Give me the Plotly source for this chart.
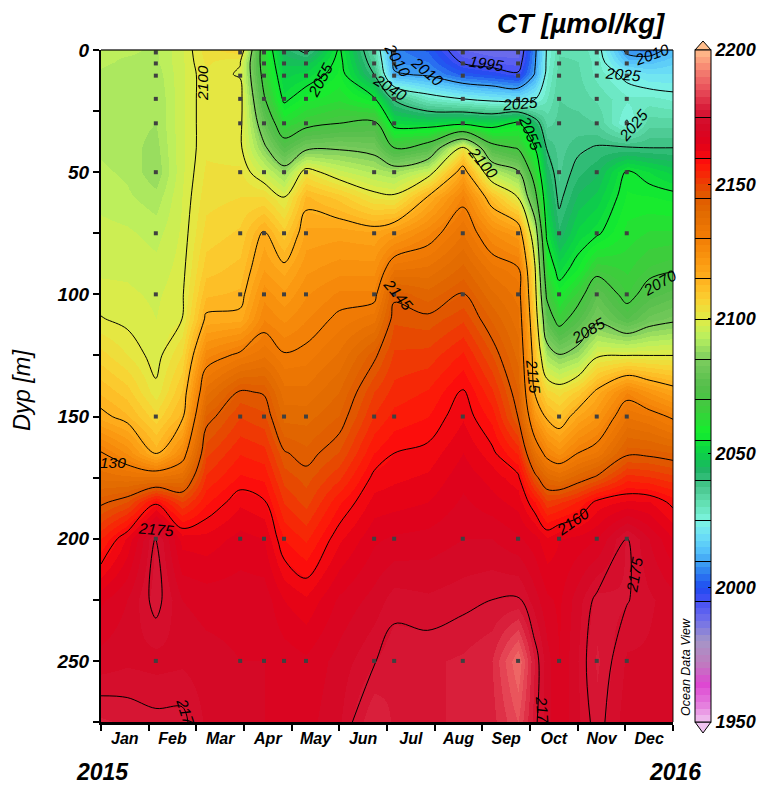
import plotly.graph_objects as go

# ---------- data ----------
month_labels = ["Jan","Feb","Mar","Apr","May","Jun","Jul","Aug","Sep","Oct","Nov","Dec"]
depths = [0,5,10,20,30,40,50,60,75,90,100,110,125,140,150,165,175,185,200,225,250,275]
months = [0,0.55,1.15,1.7,2.2,2.92,3.42,3.84,4.30,5.0,5.73,6.15,6.85,7.59,8.2,8.75,9.1,9.35,9.61,10.0,10.40,11.03,11.5,12]

ct_00 = [2093,2093,2092,2092,2092,2092,2093,2094,2096,2097,2098.5,2100.2,2106,2112,2116.5,2130.5,2137,2144,2155,2167,2171,2178]
ct_01 = [2093,2092,2091,2091,2091,2091,2092,2093,2095.5,2097,2098,2099,2102.5,2108.7,2113,2124.6,2136,2147.5,2163,2170,2172,2177]
ct_02 = [2092,2092,2091,2090,2090,2089,2088,2091,2094,2096,2097,2097.5,2098.5,2100.9,2106,2114,2136,2159,2175.5,2176.5,2171.5,2176]
ct_03 = [2097,2097,2097,2097,2097,2097,2097,2097.5,2098,2098.7,2099.3,2100,2105,2110.2,2113.6,2125.8,2137.8,2150,2164,2170,2172,2176]
ct_04 = [2104,2103,2102,2102,2102,2102,2103,2104,2106,2109,2112,2115.9,2126.5,2136.5,2143,2149.3,2153,2157,2163.5,2169,2171,2172]
ct_05 = [2107,2100.2,2099.5,2102.5,2101.5,2101,2103,2105,2108,2111,2113,2116.5,2131.5,2145.7,2150,2154.8,2158,2162,2166,2169,2170,2171]
ct_06 = [2063,2064,2066,2071,2079,2086.6,2096,2105,2116,2120,2124,2127.3,2134.5,2144.5,2148.3,2153.5,2157,2160.5,2165,2169,2170,2170]
ct_07 = [2044,2047,2049,2053.5,2062.5,2075,2088.5,2099.5,2108.5,2116.6,2120.5,2124.4,2130.5,2136,2139,2145.5,2149,2152.3,2157.5,2165,2169,2170]
ct_08 = [2038,2046,2051,2059,2067,2083,2103,2113,2118.3,2122,2124.7,2127.3,2131.3,2135.8,2139,2143.3,2146.5,2149,2154.5,2163,2168,2169]
ct_09 = [2056,2057,2058,2062,2070,2084,2096,2109,2119,2124,2128,2131,2135.5,2140,2142.7,2147.7,2152,2157,2162,2168,2171,2172]
ct_10 = [2033,2036,2040,2056,2072,2082,2092,2102,2118,2124,2128,2134,2144,2150,2152.8,2157.5,2161,2163.5,2167,2171,2174.7,2180]
ct_11 = [2006,2008,2011,2039,2052,2070,2090,2101,2121,2135,2144,2147,2150.5,2153.5,2156,2160,2162,2164,2168,2173.7,2177,2177]
ct_12 = [2002,2005,2008.8,2029,2051,2075,2096,2115,2127,2136,2141,2146,2151,2155.3,2157.5,2161,2163,2165,2168.5,2173,2177,2177]
ct_13 = [1990,1994.3,2001.4,2025,2053,2103,2119,2128,2135,2141,2145.2,2149.5,2155.5,2160.6,2162.2,2165,2166.7,2168,2170,2174,2178,2178]
ct_14 = [1988,1992,1999,2022.5,2051,2074,2093,2111,2125,2134,2138,2142,2147.5,2153,2156.5,2161,2164,2166,2170,2175,2180,2179]
ct_15 = [1988,1991,1996,2021,2056.5,2069,2086.4,2099.5,2120.8,2131.2,2134,2136,2139,2142.5,2144.8,2154.5,2161,2164,2168,2175.5,2190,2185]
ct_16 = [2008,2009,2010.5,2024.5,2044,2055.3,2064,2074,2093,2101.6,2104,2106.7,2110.6,2114.5,2122,2136,2147,2157.5,2166,2171,2177,2176]
ct_17 = [2025.5,2026,2027,2030,2034,2039.7,2044,2048,2053.5,2062,2068.5,2076,2090,2106,2114,2127.5,2140,2150.6,2163,2168,2171,2171]
ct_18 = [2032,2033,2034,2035,2036,2036.5,2037,2038.5,2043,2052,2059,2066,2085.6,2103.8,2110.6,2124,2138,2152,2165,2167,2167.5,2168]
ct_19 = [2032,2032.5,2033,2034,2036,2039,2041.7,2045.5,2050.7,2058,2066,2074.5,2089,2108.4,2118,2130,2142,2155.4,2166,2171.5,2172.5,2172]
ct_20 = [2028,2029,2029,2032,2035,2040.5,2044.4,2048.4,2054,2067.3,2077.5,2083,2099,2116.3,2122.5,2133,2146,2161,2167.4,2176,2178,2176.5]
ct_21 = [2008,2014,2023.5,2028,2024.5,2040.5,2056,2058,2061,2064.5,2067,2075,2100,2127.4,2135,2144,2154,2163,2175.5,2175.3,2172,2171]
ct_22 = [2006,2014,2020,2028.5,2034,2040,2052.5,2057.7,2062.8,2068,2073.4,2081,2100,2122.3,2133,2143.8,2153,2162.7,2170,2173,2172,2171]
ct_23 = [2013,2017,2020,2027,2034,2040,2049,2056.7,2063,2069.5,2076.3,2083.5,2100,2118,2129,2142.5,2151,2159,2165,2171,2171,2171]

ct_columns = [ct_00,ct_01,ct_02,ct_03,ct_04,ct_05,ct_06,ct_07,ct_08,ct_09,ct_10,ct_11,
              ct_12,ct_13,ct_14,ct_15,ct_16,ct_17,ct_18,ct_19,ct_20,ct_21,ct_22,ct_23]

sample_depths = [1,5.5,10.5,20,30,50,75,100,150,200,250]
station_months = [1.15,2.92,3.42,3.84,4.30,5.73,6.15,7.59,8.75,9.61,10.40,11.03]
station_missing = [[],[5.5],[],[],[200],[],[],[],[150],[],[],[]]

label_text  = ["2100","2055","2040","2010","2010","1995","2025","2055","2100","2025","2010","2025",
               "2145","2115","2085","2070","2160","2175","2175","217","217","130"]
label_month = [2.14,4.59,6.06,6.23,6.84,8.08,8.79,9.02,8.01,10.95,11.56,11.16,
               6.23,9.06,10.22,11.73,9.90,1.15,11.2,1.76,9.25,0.25]
label_depth = [13.5,12.3,15.5,4.1,9,5.7,21.7,34,46.2,10.2,2,30.7,
               100.2,133.8,114.6,95.3,193.1,196.4,214.8,270.9,270,169]
label_angle = [-90,-62,32,60,40,8,-5,68,50,5,-20,-50,
               50,84,-30,-30,-35,5,-80,72,86,0]

colorbar_ticks = [1950,2000,2050,2100,2150,2200]

# ---------- colour table (ODV style) ----------
ramp = [(1950,(240,195,240)),(1957,(228,120,220)),(1964,(222,70,210)),(1972,(190,125,190)),
        (1980,(165,150,200)),(1988,(110,110,235)),(1995,(70,80,245)),(2000,(30,75,240)),
        (2007,(50,140,240)),(2014,(85,195,250)),(2020,(110,225,245)),(2025,(125,245,225)),
        (2031,(100,225,180)),(2037,(75,200,145)),(2044,(30,180,100)),(2050,(10,210,70)),
        (2058,(20,238,45)),(2066,(60,205,60)),(2075,(85,190,75)),(2085,(125,205,95)),
        (2093,(185,240,95)),(2100,(225,235,70)),(2107,(250,210,50)),(2115,(255,175,30)),
        (2122,(250,150,15)),(2130,(242,125,5)),(2140,(225,105,0)),(2147,(225,85,0)),
        (2153,(245,45,5)),(2158,(255,15,10)),(2165,(225,0,25)),(2172,(212,10,40)),
        (2178,(215,25,55)),(2184,(230,70,85)),(2190,(240,110,105)),(2195,(250,150,120)),
        (2200,(255,190,140))]
VMIN, VMAX = 1950, 2200

def ramp_colour(v):
    for (a, ca), (b, cb) in zip(ramp, ramp[1:]):
        if a <= v <= b:
            t = (v - a) / (b - a)
            return "rgb(%d,%d,%d)" % tuple(round(p + (q - p) * t) for p, q in zip(ca, cb))
    return "rgb(0,0,0)"

N_BANDS = 100
colorscale = []
for i in range(N_BANDS):
    c = ramp_colour(VMIN + (i + 0.5) * (VMAX - VMIN) / N_BANDS)
    colorscale.append([i / N_BANDS, c])
    colorscale.append([(i + 1) / N_BANDS, c])

# ---------- layout constants ----------
W, H = 766, 793
L, R, T, B = 101, 673, 50, 722
px = lambda x: x / W
py = lambda y: 1 - y / H
FONT = "Liberation Sans"
bi = lambda size: dict(family=FONT, size=size, color="black", weight=700, style="italic")
it = lambda size: dict(family=FONT, size=size, color="black", style="italic")

z = [list(row) for row in zip(*ct_columns)]

fig = go.Figure()
fig.add_trace(go.Contour(
    x=months, y=depths, z=z, zmin=VMIN, zmax=VMAX, colorscale=colorscale,
    contours=dict(coloring="heatmap", start=1995, end=2175, size=15, showlabels=False),
    line=dict(color="black", width=1, smoothing=1),
    colorbar=dict(x=px(695), xanchor="left", xref="paper", y=py(T), yanchor="top", yref="paper",
                  thickness=16, thicknessmode="pixels", len=B - T, lenmode="pixels",
                  xpad=0, ypad=0, outlinecolor="black", outlinewidth=1,
                  tickmode="array", tickvals=colorbar_ticks, ticks="inside", ticklen=3,
                  tickcolor="black", tickfont=bi(18), tickprefix="\u2009"),
    hoverinfo="skip"))

dot_x, dot_y = [], []
for m, missing in zip(station_months, station_missing):
    for d in sample_depths:
        if d not in missing:
            dot_x.append(m)
            dot_y.append(d)
fig.add_trace(go.Scatter(x=dot_x, y=dot_y, mode="markers", showlegend=False,
                         marker=dict(symbol="square", size=4, color="#404040"), hoverinfo="skip"))

annotations = []
for t, m, d, a in zip(label_text, label_month, label_depth, label_angle):
    annotations.append(dict(x=m, y=d, xref="x", yref="y", text=t, textangle=a, showarrow=False,
                            font=it(15.5)))
def note(text, x, y, font, angle=0, anchor="center"):
    annotations.append(dict(x=px(x), y=py(y), xref="paper", yref="paper", text=text, textangle=angle,
                            showarrow=False, xanchor=anchor, yanchor="middle", font=font))
note("CT [µmol/kg]", 667, 24, bi(27.5), anchor="right")
note("Dyp [m]", 22, 391, it(23.5), angle=-90)
note("2015", 102, 772, bi(23))
note("2016", 675, 772, bi(23))
note("Ocean Data View", 686, 667, it(12.5), angle=-90)

def tri(x0, x1, y0, y1):
    return "M %f %f L %f %f L %f %f Z" % (px(x0), py(y0), px((x0 + x1) / 2), py(y1), px(x1), py(y0))
shapes = [
    dict(type="path", xref="paper", yref="paper", path=tri(695, 711, T, 41),
         fillcolor="rgb(255,190,140)", line=dict(color="black", width=1)),
    dict(type="path", xref="paper", yref="paper", path=tri(695, 711, B, 733),
         fillcolor="rgb(240,195,240)", line=dict(color="black", width=1)),
    dict(type="line", xref="paper", yref="paper", x0=px(L), x1=px(R), y0=py(T), y1=py(T),
         line=dict(color="rgba(0,0,0,0.6)", width=2)),
    dict(type="line", xref="paper", yref="paper", x0=px(R), x1=px(R), y0=py(T), y1=py(B),
         line=dict(color="rgba(0,0,0,0.45)", width=2)),
]

fig.update_layout(
    width=W, height=H, autosize=False, margin=dict(l=0, r=0, t=0, b=0, autoexpand=False),
    paper_bgcolor="white", plot_bgcolor="white", showlegend=False,
    annotations=annotations, shapes=shapes,
    xaxis=dict(domain=[px(L), px(R)], range=[0, 12], showgrid=False, zeroline=False,
               tickmode="array", tickvals=[i + 0.5 for i in range(12)], ticktext=month_labels,
               ticks="", tickfont=bi(16), showline=True, linecolor="black", linewidth=3,
               minor=dict(tickmode="array", tickvals=list(range(13)), ticks="outside",
                          ticklen=6, tickwidth=1.5, tickcolor="black", showgrid=False)),
    yaxis=dict(domain=[py(B), py(T)], range=[275, 0], showgrid=False, zeroline=False,
               tickmode="array", tickvals=[0, 50, 100, 150, 200, 250], ticks="outside",
               ticklen=6, tickwidth=1.5, tickcolor="black", tickfont=bi(19),
               showline=True, linecolor="black", linewidth=2,
               minor=dict(tickmode="array", tickvals=[25, 75, 125, 175, 225, 275], ticks="outside",
                          ticklen=6, tickwidth=1.5, tickcolor="black", showgrid=False)),
)

fig.write_html("out.html", config={"displayModeBar": False},
               post_script="document.body.style.margin='0';")
